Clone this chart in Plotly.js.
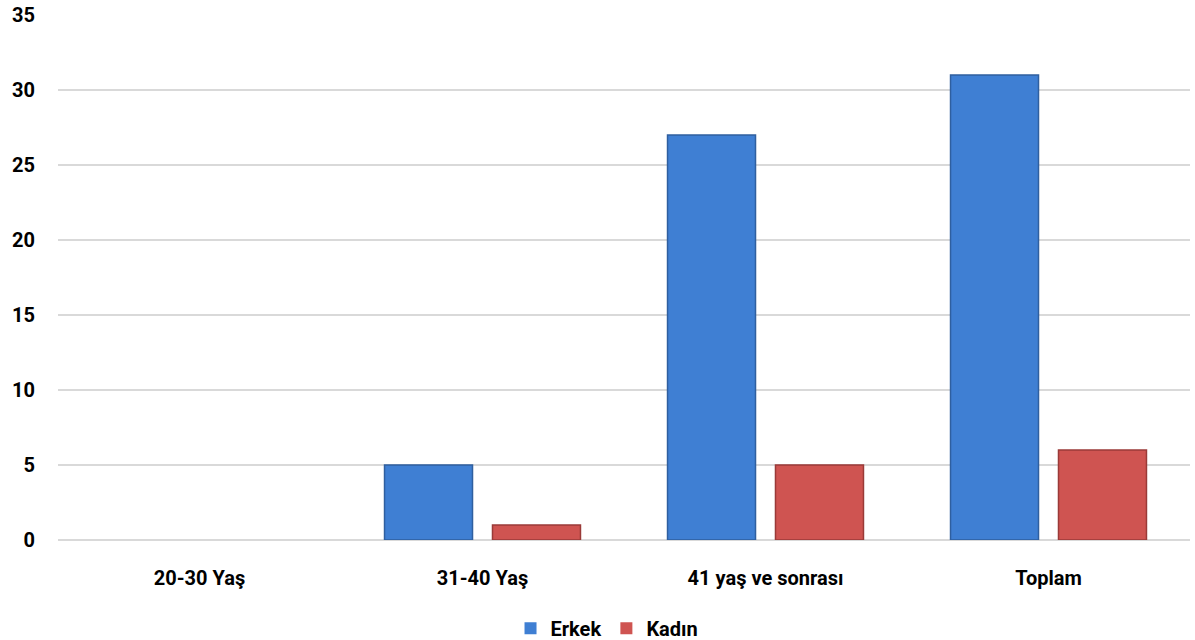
<!DOCTYPE html>
<html><head><meta charset="utf-8">
<script src="https://cdn.plot.ly/plotly-3.0.1.min.js"></script>
<style>html,body{margin:0;padding:0;background:#fff}#chart{width:1195px;height:640px}</style>
</head><body><div id="chart"></div>
<script>
const categories = ["20-30 Yaş", "31-40 Yaş", "41 yaş ve sonrası", "Toplam"];
const erkek = [0, 5, 27, 31];
const kadin = [0, 1, 5, 6];
const yTicks = [0, 5, 10, 15, 20, 25, 30, 35];

const font = "Roboto, 'DejaVu Sans', sans-serif";
const data = [
  {type: "bar", name: "Erkek", x: categories, y: erkek,
   marker: {color: "#3f7fd3", line: {color: "#2f5f9f", width: erkek.map(v => v ? 1.5 : 0)}}},
  {type: "bar", name: "Kadın", x: categories, y: kadin,
   marker: {color: "#cf5451", line: {color: "#9a3a38", width: kadin.map(v => v ? 1.5 : 0)}}}
];
const layout = {
  width: 1195, height: 640,
  margin: {l: 58, r: 5, t: 15, b: 100, autoexpand: false},
  paper_bgcolor: "#fff", plot_bgcolor: "#fff",
  barmode: "group", bargap: 0.237, bargroupgap: 0.185,
  font: {family: font, size: 20, color: "#000", weight: "bold"},
  xaxis: {showgrid: false, zeroline: false, showline: false, ticks: "",
          tickfont: {family: font, size: 20, weight: "bold"}, ticklabelstandoff: 24, automargin: false},
  yaxis: {range: [0, 35], tickvals: yTicks, showgrid: true, gridcolor: "#d9d9d9", gridwidth: 2,
          zeroline: true, zerolinecolor: "#d9d9d9", zerolinewidth: 2, showline: false, ticks: "",
          tickfont: {family: font, size: 20, weight: "bold"}, ticklabelstandoff: 22, automargin: false},
  showlegend: true,
  legend: {orientation: "h", x: 0.485, xanchor: "center", y: -0.168, yanchor: "middle",
           font: {family: font, size: 20, weight: "bold"}, itemwidth: 30, traceorder: "normal"}
};
Plotly.newPlot("chart", data, layout, {displayModeBar: false, staticPlot: true});
</script></body></html>
